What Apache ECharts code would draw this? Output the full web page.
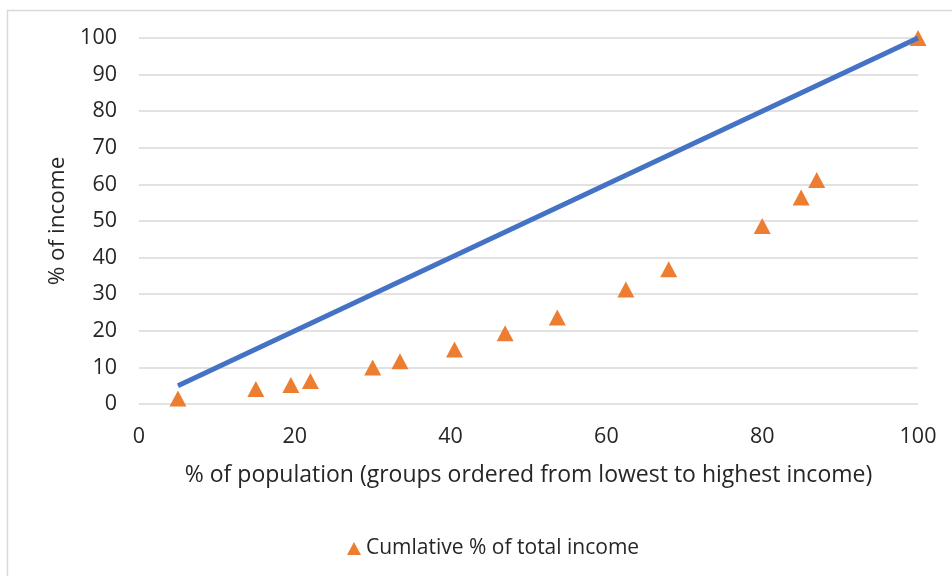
<!DOCTYPE html>
<html>
<head>
<meta charset="utf-8">
<script src="https://cdn.jsdelivr.net/npm/echarts@6/dist/echarts.min.js"></script>
<style>
html,body{margin:0;padding:0;background:#fff;}
#chart{width:952px;height:576px;}
</style>
</head>
<body>
<div id="chart"></div>
<script>
// Data
var populationPct = [5, 15, 19.5, 22, 30, 33.5, 40.5, 47, 53.7, 62.5, 68, 80, 85, 87, 100];
var incomePct     = [1.5, 4.1, 5.2, 6.3, 10, 11.7, 14.9, 19.3, 23.6, 31.3, 36.8, 48.6, 56.4, 61.2, 100];
var equalityX = [5, 100];
var equalityY = [5, 100];
var seriesName = 'Cumlative % of total income';
var xTitle = '% of population (groups ordered from lowest to highest income)';
var yTitle = '% of income';

var scatterData = populationPct.map(function (x, i) { return [x, incomePct[i]]; });
var lineData = equalityX.map(function (x, i) { return [x, equalityY[i]]; });

var FONT = 'Open Sans';
var TXT = '#262626';
var chart = echarts.init(document.getElementById('chart'), null, {renderer: 'canvas'});
chart.setOption({
  animation: false,
  backgroundColor: '#fff',
  graphic: [{
    type: 'rect',
    shape: {x: 7.5, y: 10.5, width: 1000, height: 700},
    style: {fill: 'none', stroke: '#d9d9d9', lineWidth: 1.5},
    silent: true, z: -10
  }],
  grid: {left: 139, right: 34, top: 38, bottom: 172, containLabel: false},
  legend: {
    data: [{name: seriesName, icon: 'triangle'}],
    left: 342, top: 533,
    itemWidth: 14, itemHeight: 13, itemGap: 8,
    textStyle: {fontFamily: FONT, fontSize: 21, color: TXT}
  },
  xAxis: {
    type: 'value', min: 0, max: 100, interval: 20,
    name: xTitle, nameLocation: 'middle', nameGap: 60,
    nameTextStyle: {fontFamily: FONT, fontSize: 23, color: TXT},
    axisLine: {show: false}, axisTick: {show: false},
    splitLine: {show: false},
    axisLabel: {fontFamily: FONT, fontSize: 21.5, color: TXT, margin: 22}
  },
  yAxis: {
    type: 'value', min: 0, max: 100, interval: 10,
    name: yTitle, nameLocation: 'middle', nameGap: 69,
    nameTextStyle: {fontFamily: FONT, fontSize: 22.5, color: TXT},
    axisLine: {show: false}, axisTick: {show: false},
    splitLine: {show: true, lineStyle: {color: '#d9d9d9', width: 1.5}},
    axisLabel: {fontFamily: FONT, fontSize: 21.5, color: TXT, margin: 22}
  },
  series: [{
    name: seriesName, type: 'scatter', data: scatterData,
    symbol: 'triangle', symbolSize: [17, 16],
    itemStyle: {color: '#ED7D31', opacity: 1}, z: 2
  }, {
    name: 'equality', type: 'line', data: lineData,
    symbol: 'none', lineStyle: {color: '#4472C4', width: 5},
    z: 3
  }]
});
</script>
</body>
</html>
